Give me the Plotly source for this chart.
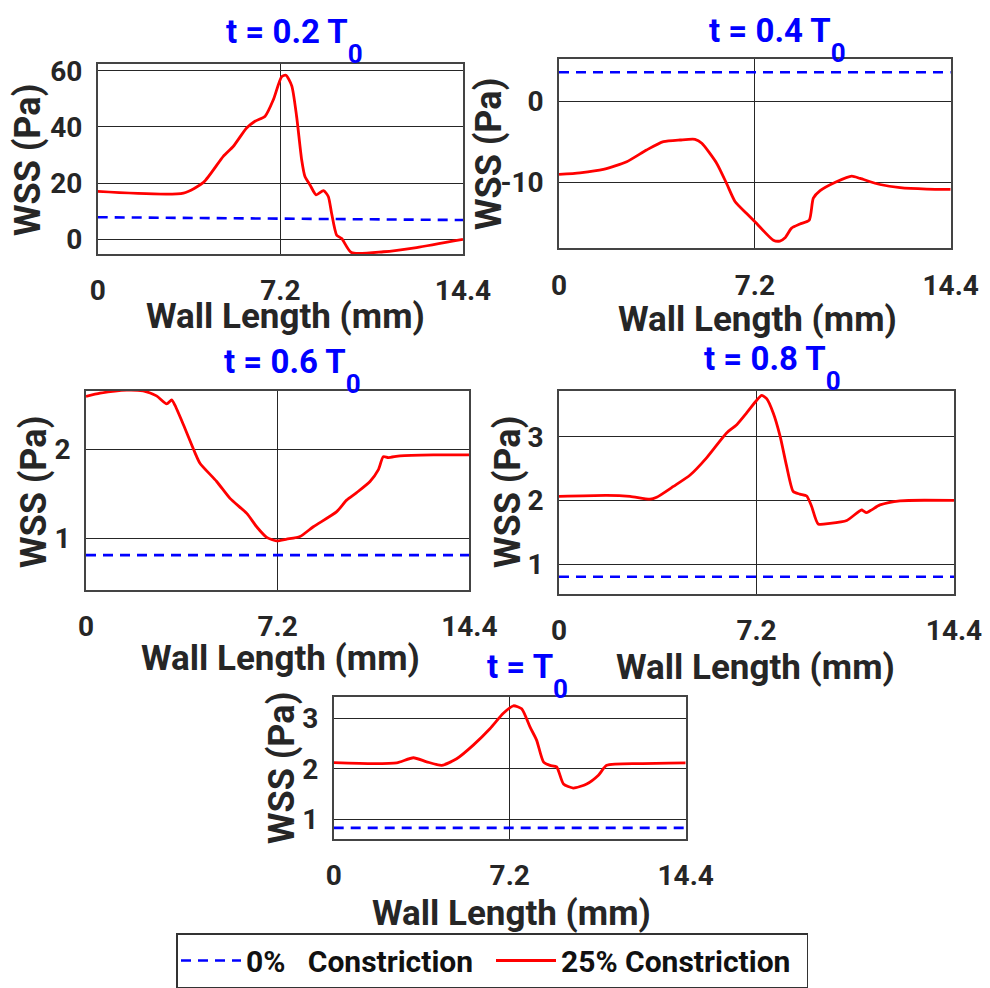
import plotly.graph_objects as go

W, H = 990, 988

# ---------------- data ----------------
titles = ["t = 0.2 T", "t = 0.4 T", "t = 0.6 T", "t = 0.8 T", "t = T"]
title_sub = "0"
x_ticks = [0, 7.2, 14.4]
x_ticktext = ["0", "7.2", "14.4"]

# 0% constriction (dashed blue)
base_x = [0, 7.2, 14.4]
base_y1 = [7.8, 7.3, 6.8]
base_y2 = [3.6, 3.6, 3.6]
base_y3 = [0.81, 0.81, 0.81]
base_y4 = [0.80, 0.80, 0.80]
base_y5 = [0.83, 0.83, 0.83]

# 25% constriction (solid red)
c1_x = [0, 3.38, 4.17, 4.95, 5.35, 5.87, 6.2, 6.6, 6.93, 7.25, 7.42, 7.65, 7.84, 8.04,
        8.17, 8.37, 8.61, 8.9, 9.09, 9.22, 9.42, 9.62, 10.0, 11.26, 12.57, 14.4]
c1_y = [17.0, 16.4, 20.2, 29.5, 33.1, 39.6, 42.0, 43.8, 49.8, 57.9, 58.4, 54.6, 43.8, 28.3,
        22.3, 19.3, 15.8, 17.3, 15.2, 9.2, 1.4, 0.2, -4.8, -4.5, -3.0, -0.1]

c2_x = [0, 0.77, 1.63, 2.49, 3.22, 3.84, 4.45, 5.0, 5.25, 5.8, 6.16, 6.47, 6.9, 7.24,
        7.88, 8.12, 8.31, 8.55, 8.86, 9.2, 9.35, 9.6, 10.2, 10.76, 11.07, 11.8, 12.54,
        13.52, 14.4]
c2_y = [-9.05, -8.85, -8.43, -7.48, -6.03, -5.0, -4.79, -4.71, -5.2, -7.69, -10.17, -12.4,
        -13.9, -15.04, -17.2, -17.3, -16.9, -15.7, -15.2, -14.7, -12.0, -11.07, -9.96,
        -9.26, -9.55, -10.3, -10.7, -10.87, -10.9]

c3_x = [0, 0.53, 1.53, 2.15, 2.65, 3.03, 3.22, 3.34, 3.66, 4.1, 4.28, 4.91, 5.41, 6.04,
        6.41, 6.79, 7.16, 7.54, 8.04, 8.54, 9.42, 9.79, 10.17, 10.67, 10.98, 11.17, 11.36,
        11.8, 13.05, 14.4]
c3_y = [2.60, 2.635, 2.67, 2.66, 2.605, 2.515, 2.56, 2.50, 2.28, 1.96, 1.846, 1.64, 1.45,
        1.28, 1.13, 1.01, 0.97, 0.99, 1.02, 1.13, 1.30, 1.43, 1.515, 1.64, 1.77, 1.92,
        1.91, 1.93, 1.94, 1.94]

c4_x = [0, 1.74, 2.59, 3.32, 3.56, 4.17, 4.78, 5.38, 6.11, 6.48, 6.84, 7.2, 7.39, 7.57,
        7.81, 8.06, 8.3, 8.54, 8.78, 9.03, 9.21, 9.45, 9.88, 10.49, 11.03, 11.21, 11.7,
        12.43, 14.4]
c4_y = [2.063, 2.08, 2.063, 2.02, 2.05, 2.22, 2.40, 2.67, 3.06, 3.19, 3.375, 3.57, 3.65,
        3.60, 3.375, 3.01, 2.535, 2.14, 2.10, 2.07, 1.905, 1.63, 1.64, 1.685, 1.85, 1.81,
        1.93, 1.995, 2.0]

c5_x = [0, 1.62, 2.58, 3.26, 3.8, 4.42, 5.03, 5.71, 6.4, 6.94, 7.35, 7.69, 8.03, 8.3,
        8.58, 8.85, 9.12, 9.4, 9.8, 10.35, 10.83, 11.17, 12.53, 14.4]
c5_y = [2.125, 2.105, 2.12, 2.22, 2.14, 2.07, 2.2, 2.47, 2.80, 3.10, 3.25, 3.19, 2.83,
        2.57, 2.14, 2.07, 2.04, 1.70, 1.62, 1.70, 1.875, 2.07, 2.105, 2.12]

y_tickvals = [[0, 20, 40, 60], [-10, 0], [1, 2], [1, 2, 3], [1, 2, 3]]
y_ticktext = [["0", "20", "40", "60"], ["-10", "0"], ["1", "2"], ["1", "2", "3"], ["1", "2", "3"]]
y_ranges = [[-5.3, 62.4], [-18.2, 5.2], [0.417, 2.66], [0.53, 3.72], [0.61, 3.43]]

base_ys = [base_y1, base_y2, base_y3, base_y4, base_y5]
curves = [(c1_x, c1_y), (c2_x, c2_y), (c3_x, c3_y), (c4_x, c4_y), (c5_x, c5_y)]

# ---------------- layout geometry (pixels) ----------------
boxes = [  # left, right, top, bottom
    (97.7, 463.0, 64.0, 254.0),
    (559.0, 950.7, 59.3, 248.3),
    (86.0, 469.3, 391.0, 590.0),
    (559.0, 954.0, 391.0, 594.0),
    (333.7, 685.7, 696.7, 839.0),
]
title_pos = [(224, 40), (707, 39), (222, 370), (702, 368), (485, 675)]
xtitle_pos = [(285, 317), (757, 320), (280, 658), (755, 667), (511, 913)]
ytitle_pos = [(28, 160), (489, 154), (34, 492), (508, 492), (282, 768)]

def px(x):
    return x / W

def py(y):
    return 1 - y / H

TXT = "#262626"
FONT = "Roboto"

fig = go.Figure()
for i in range(5):
    xa = "x" if i == 0 else f"x{i+1}"
    ya = "y" if i == 0 else f"y{i+1}"
    fig.add_trace(go.Scatter(
        x=base_x, y=base_ys[i], mode="lines", xaxis=xa, yaxis=ya,
        line=dict(color="#0000FF", width=2.6, dash="10px,7px"),
        name="0%\u00a0\u00a0\u00a0Constriction", legendgroup="a", showlegend=(i == 0)))
    cx, cy = curves[i]
    fig.add_trace(go.Scatter(
        x=cx, y=cy, mode="lines", xaxis=xa, yaxis=ya,
        line=dict(color="#FF0000", width=2.8, shape="spline", smoothing=0.6),
        name="25% Constriction", legendgroup="b", showlegend=(i == 0)))

layout = dict(
    width=W, height=H, autosize=False,
    margin=dict(l=0, r=0, t=0, b=0, pad=0, autoexpand=False),
    paper_bgcolor="white", plot_bgcolor="white",
    font=dict(family=FONT, color=TXT, weight="bold"),
    legend=dict(orientation="h", x=px(492), xanchor="center", y=py(933), yanchor="top",
                bordercolor="#333333", borderwidth=1.5, bgcolor="white",
                font=dict(size=30, family=FONT, color="#111111", weight="bold"),
                itemwidth=60, entrywidth=240, tracegroupgap=0),
    annotations=[],
)
for i in range(5):
    l, r, t, b = boxes[i]
    sx = "" if i == 0 else str(i + 1)
    layout[f"xaxis{sx}"] = dict(
        domain=[px(l), px(r)], anchor=f"y{sx}", range=[0, 14.4], automargin=False,
        tickmode="array", tickvals=x_ticks, ticktext=x_ticktext,
        showgrid=True, gridcolor="#262626", gridwidth=1.4,
        showline=True, mirror=True, linecolor="#444444", linewidth=1.6,
        zeroline=False, ticks="", ticklabelstandoff=11,
        tickfont=dict(size=28, color=TXT, family=FONT, weight="bold"))
    layout[f"yaxis{sx}"] = dict(
        domain=[py(b), py(t)], anchor=f"x{sx}", range=y_ranges[i], automargin=False,
        tickmode="array", tickvals=y_tickvals[i], ticktext=y_ticktext[i],
        showgrid=True, gridcolor="#262626", gridwidth=1.4,
        showline=True, mirror=True, linecolor="#444444", linewidth=1.6,
        zeroline=False, ticks="", ticklabelstandoff=8,
        tickfont=dict(size=28, color=TXT, family=FONT, weight="bold"))
    tx, ty = title_pos[i]
    layout["annotations"].append(dict(
        text=titles[i] + "<span style='font-size:26px;baseline-shift:-20px'>" + title_sub + "</span>",
        x=px(tx), y=py(ty), xref="paper", yref="paper",
        xanchor="left", yanchor="middle", showarrow=False,
        font=dict(size=33, color="#0000FF", family=FONT, weight="bold")))
    xx, xy = xtitle_pos[i]
    layout["annotations"].append(dict(
        text="Wall Length (mm)", x=px(xx), y=py(xy), xref="paper", yref="paper",
        xanchor="center", yanchor="middle", showarrow=False,
        font=dict(size=35, color=TXT, family=FONT, weight="bold")))
    yx, yy = ytitle_pos[i]
    layout["annotations"].append(dict(
        text="WSS (Pa)", x=px(yx), y=py(yy), xref="paper", yref="paper",
        xanchor="center", yanchor="middle", showarrow=False, textangle=-90,
        font=dict(size=36, color=TXT, family=FONT, weight="bold")))

fig.update_layout(**layout)
fig.write_html("out.html")
